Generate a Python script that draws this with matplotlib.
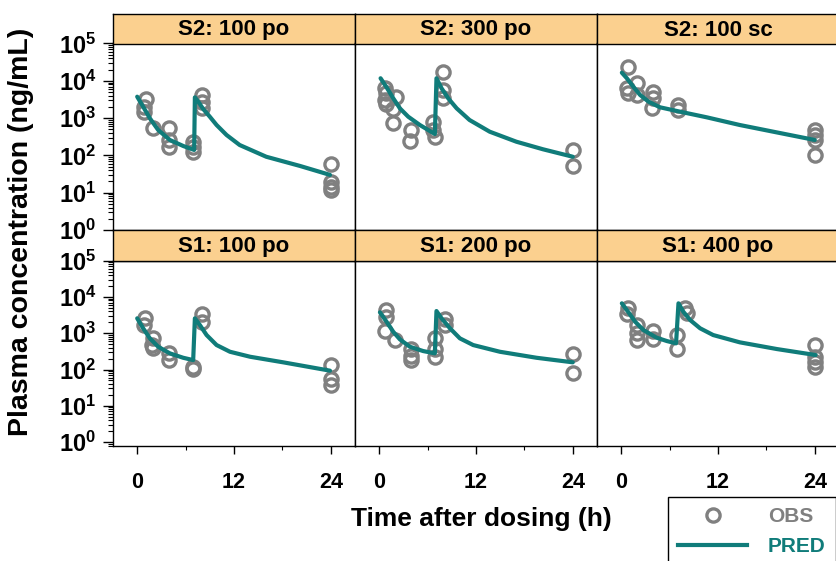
import matplotlib
matplotlib.use("Agg")
import matplotlib.pyplot as plt
from matplotlib.lines import Line2D
from matplotlib.ticker import LogLocator, FixedLocator, NullFormatter

plt.rcParams['font.family'] = ['Liberation Sans', 'DejaVu Sans']
plt.rcParams['font.weight'] = 'bold'
plt.rcParams['mathtext.fontset'] = 'custom'
plt.rcParams['mathtext.rm'] = 'Liberation Sans:bold'
plt.rcParams['mathtext.it'] = 'Liberation Sans:bold'
plt.rcParams['mathtext.bf'] = 'Liberation Sans:bold'

# panel titles, row by row
titles = ["S2: 100 po", "S2: 300 po", "S2: 100 sc",
          "S1: 100 po", "S1: 200 po", "S1: 400 po"]

obs_t_s2_100po = [1.1, 0.9, 0.9, 1.9, 4.0, 4.0, 3.9, 6.9, 6.9, 6.9, 8.0, 8.0, 8.0, 24, 24, 24, 24]
obs_c_s2_100po = [3190, 2020, 1485, 533, 533, 259, 171, 233, 171, 126, 4160, 2750, 1830, 59, 19.7, 14.5, 11.8]

obs_t_s2_300po = [0.7, 0.9, 2.1, 0.7, 0.9, 1.7, 1.7, 4.0, 3.8, 7.9, 7.9, 7.9, 6.7, 6.7, 6.9, 24, 24]
obs_c_s2_300po = [6300, 4620, 3610, 3055, 2344, 1722, 753, 480, 243, 17540, 5670, 3400, 800, 480, 317, 140, 52]

obs_t_s2_100sc = [0.8, 1.9, 0.7, 0.9, 1.9, 4.0, 4.0, 3.8, 7.1, 7.1, 24, 24, 24, 24]
obs_c_s2_100sc = [23900, 8570, 6300, 4620, 4160, 5100, 3400, 1900, 2245, 1650, 480, 352, 259, 102]

obs_t_s1_100po = [1.0, 0.9, 2.0, 2.0, 1.8, 3.9, 3.9, 6.9, 6.9, 8.0, 8.0, 24, 24, 24]
obs_c_s1_100po = [2680, 1685, 724, 384, 473, 279, 182, 101, 119, 3325, 2080, 133, 55, 37]

obs_t_s1_200po = [0.9, 0.9, 0.7, 2.0, 4.0, 4.0, 4.0, 6.9, 6.9, 6.9, 8.1, 8.1, 24, 24]
obs_c_s1_200po = [4370, 2860, 1150, 650, 367, 240, 182, 753, 367, 225, 2465, 1685, 262, 78.5]

obs_t_s1_400po = [0.9, 0.7, 1.9, 1.9, 1.9, 4.0, 4.0, 6.9, 6.9, 7.9, 8.1, 24, 24, 24, 24]
obs_c_s1_400po = [4870, 3325, 1685, 995, 650, 1150, 680, 893, 367, 4870, 3540, 473, 225, 164, 119]

# model predictions
pred_t_s2_100po = [0.0, 0.74, 1.57, 2.6, 4.05, 5.7, 7.06, 7.15, 7.57, 8.18, 9.0, 9.84, 11.08, 12.7, 16.0, 20.2, 23.9]
pred_c_s2_100po = [3750, 2020, 988, 480, 259, 179, 140, 3600, 2750, 1754, 1090, 653, 352, 190, 92, 52, 30]

pred_t_s2_300po = [0.17, 0.91, 1.74, 2.56, 3.6, 5.04, 6.9, 7.1, 7.73, 8.55, 9.6, 11.2, 13.7, 17.0, 20.3, 24.0]
pred_c_s2_300po = [11700, 6700, 3400, 1830, 1090, 653, 375, 11700, 6300, 3400, 1830, 889, 432, 233, 146, 92]

pred_t_s2_100sc = [0.08, 0.7, 1.5, 2.35, 3.4, 4.8, 7.3, 10.6, 14.7, 18.85, 24.0]
pred_c_s2_100sc = [16500, 11700, 6950, 4160, 2750, 1950, 1485, 1050, 653, 432, 259]

pred_t_s1_100po = [0.0, 0.74, 1.57, 2.6, 4.05, 5.7, 6.94, 7.15, 7.77, 8.6, 9.84, 11.5, 14.0, 18.1, 23.9]
pred_c_s1_100po = [2580, 1367, 724, 425, 279, 211, 182, 2580, 1685, 893, 473, 309, 225, 158, 93]

pred_t_s1_200po = [0.09, 0.91, 1.74, 2.56, 3.8, 5.45, 6.9, 7.1, 7.73, 8.77, 10.0, 11.65, 14.96, 19.5, 24.0]
pred_c_s1_200po = [3780, 2080, 1100, 680, 425, 323, 279, 4100, 2580, 1370, 724, 473, 309, 211, 158]

pred_t_s1_400po = [0.08, 0.9, 1.73, 2.76, 4.4, 5.66, 6.8, 7.1, 7.7, 8.54, 9.78, 11.4, 14.7, 19.3, 24.1]
pred_c_s1_400po = [6690, 3780, 2080, 1227, 753, 610, 527, 6690, 3925, 2320, 1370, 893, 562, 367, 251]

obs_t = [obs_t_s2_100po, obs_t_s2_300po, obs_t_s2_100sc, obs_t_s1_100po, obs_t_s1_200po, obs_t_s1_400po]
obs_c = [obs_c_s2_100po, obs_c_s2_300po, obs_c_s2_100sc, obs_c_s1_100po, obs_c_s1_200po, obs_c_s1_400po]
pred_t = [pred_t_s2_100po, pred_t_s2_300po, pred_t_s2_100sc, pred_t_s1_100po, pred_t_s1_200po, pred_t_s1_400po]
pred_c = [pred_c_s2_100po, pred_c_s2_300po, pred_c_s2_100sc, pred_c_s1_100po, pred_c_s1_200po, pred_c_s1_400po]

x_ticks = [0, 12, 24]
x_minor = [6, 18]

W, H = 836, 561
obs_color = "#808080"
pred_color = "#107C7A"
strip_color = "#FBD08F"

fig = plt.figure(figsize=(W / 100, H / 100), dpi=100)

col_x = [113, 355, 597]
col_w = 242
# (strip top, plot top, plot bottom) in pixels
rows = [(13.5, 43.5, 230.0), (230.0, 260.7, 446.0)]
row_ymin = [1.0, 0.78]


def px_box(x0, y_top, w, h):
    return [x0 / W, 1 - (y_top + h) / H, w / W, h / H]


for i in range(6):
    r, c = divmod(i, 3)
    s_top, p_top, p_bot = rows[r]
    ax = fig.add_axes(px_box(col_x[c], p_top, col_w, p_bot - p_top))
    ax.set_yscale("log")
    ax.set_xlim(-3, 27)
    ax.set_ylim(row_ymin[r], 1e5)

    ax.plot(obs_t[i], obs_c[i], "o", ms=9.5, mfc="none", mec=obs_color, mew=2.4, zorder=2)
    ax.plot(pred_t[i], pred_c[i], "-", color=pred_color, lw=3, zorder=3,
            solid_joinstyle="round", solid_capstyle="round")

    for sp in ax.spines.values():
        sp.set_linewidth(1.0)
        sp.set_color("black")

    ax.yaxis.set_major_locator(LogLocator(base=10, numticks=10))
    ax.yaxis.set_minor_locator(LogLocator(base=10, subs=range(2, 10), numticks=20))
    ax.xaxis.set_major_locator(FixedLocator(x_ticks))
    ax.xaxis.set_minor_locator(FixedLocator(x_minor))
    ax.tick_params(axis="y", which="major", direction="out", length=7, width=1, labelsize=17, pad=5)
    ax.tick_params(axis="y", which="minor", direction="out", length=3.5, width=0.8)
    ax.tick_params(axis="x", which="major", direction="out", length=6, width=1, labelsize=15.5, pad=13)
    ax.tick_params(axis="x", which="minor", direction="out", length=3, width=0.8)
    if c != 0:
        ax.tick_params(axis="y", which="both", left=False, labelleft=False)
    if r == 0:
        ax.tick_params(axis="x", which="both", bottom=False, labelbottom=False)
    ax.yaxis.set_minor_formatter(NullFormatter())

    # orange strip with panel title
    sx = fig.add_axes(px_box(col_x[c], s_top, col_w, p_top - s_top))
    sx.set_facecolor(strip_color)
    sx.set_xticks([])
    sx.set_yticks([])
    for sp in sx.spines.values():
        sp.set_linewidth(1.0)
    sx.text(0.5, 0.45, titles[i], transform=sx.transAxes, ha="center", va="center",
            fontsize=16, fontweight="bold")

fig.text(21 / W, 1 - 232 / H, "Plasma concentration (ng/mL)", rotation=90,
         ha="center", va="center", fontsize=20.5, fontweight="bold")
fig.text(481 / W, 1 - 519 / H, "Time after dosing (h)", ha="center", va="center",
         fontsize=19, fontweight="bold")

handles = [Line2D([], [], ls="none", marker="o", ms=9.5, mfc="none", mec=obs_color, mew=2.4),
           Line2D([], [], color=pred_color, lw=3)]
leg = fig.legend(handles, ["OBS", "PRED"], loc="upper left",
                 bbox_to_anchor=(668 / W, 1 - 497 / H), frameon=True, fancybox=False,
                 edgecolor="black", framealpha=1, handlelength=3.3, handletextpad=1.0,
                 borderpad=0.5, labelspacing=0.5, borderaxespad=0,
                 prop={"size": 15, "weight": "bold"}, labelcolor=[obs_color, pred_color])
leg.get_frame().set_linewidth(1.0)

fig.savefig("out.png", dpi=100)
